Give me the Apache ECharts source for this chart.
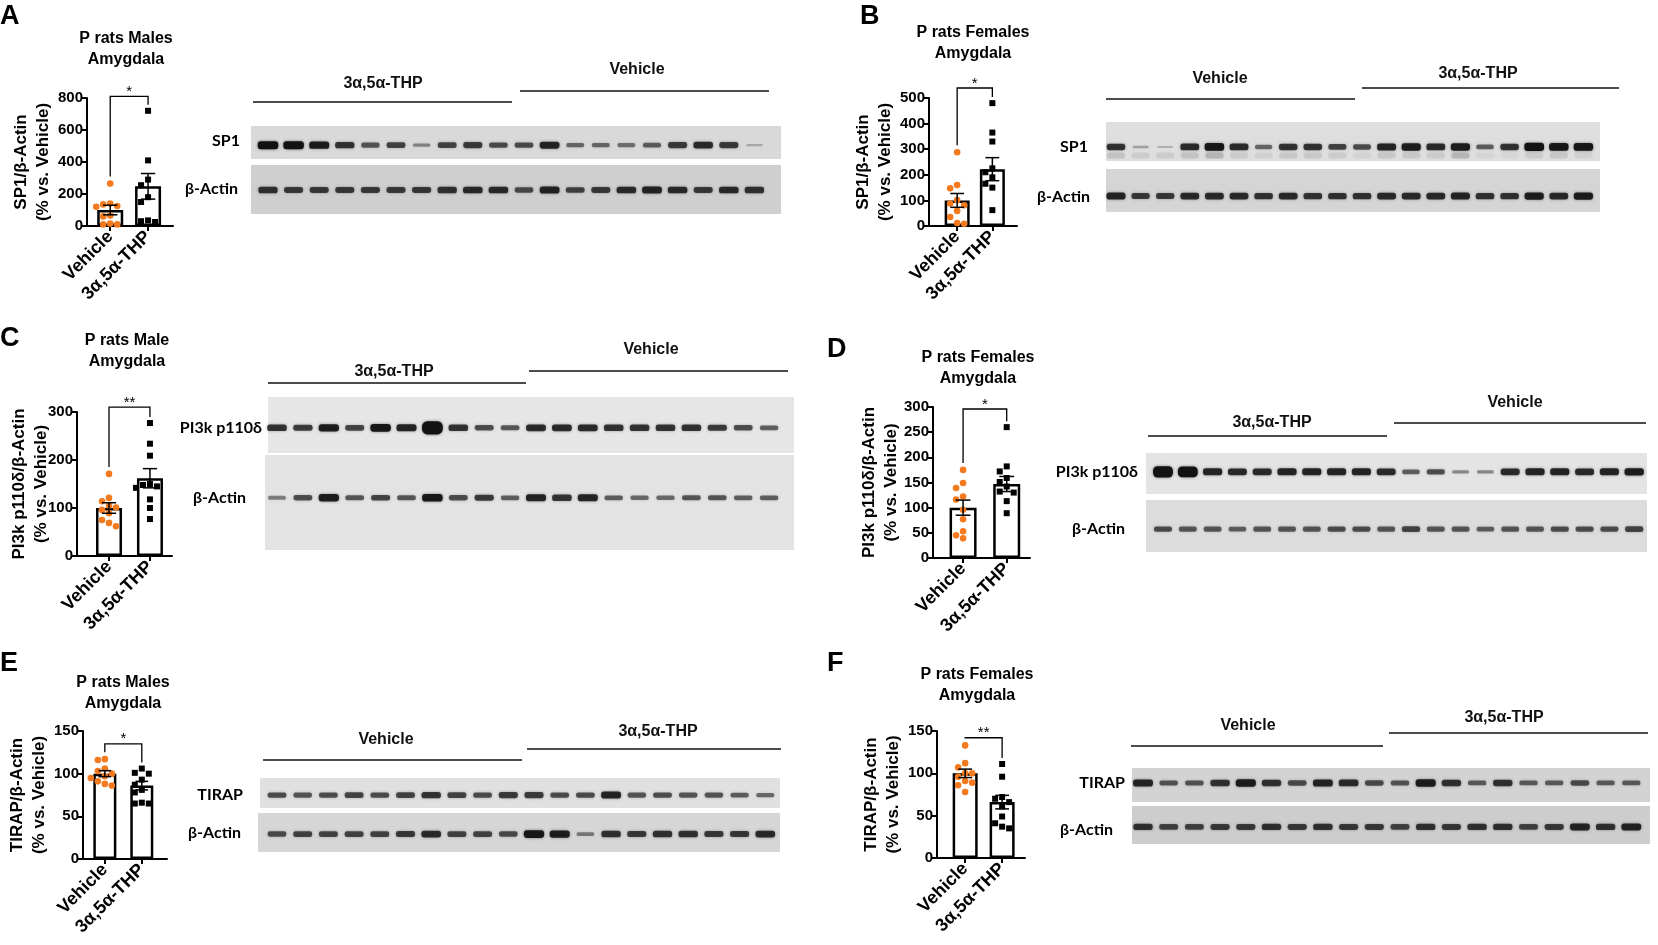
<!DOCTYPE html>
<html>
<head>
<meta charset="utf-8">
<script src="https://cdn.jsdelivr.net/npm/echarts@6/dist/echarts.min.js"></script>
<style>
html, body { margin: 0; padding: 0; background: #fff; }
#main { width: 1658px; height: 945px; }
</style>
</head>
<body>
<div id="main"></div>
<script>
// group names
var groups = ['Vehicle', '3α,5α-THP'];

// A: SP1, males
var aVehicle = [265, 140, 135, 125, 120, 65, 60, 15, 10, 10];
var aTHP = [720, 410, 290, 255, 180, 150, 35, 30, 25];
var aMean = [100, 248];
var aSem = [30, 80];
var aTicks = [0, 200, 400, 600, 800];
var aSp1Blot = [1.0, 1.0, 0.9, 0.75, 0.55, 0.65, 0.3, 0.65, 0.7, 0.6, 0.6, 0.85, 0.45, 0.45, 0.4, 0.5, 0.7, 0.8, 0.7, 0.1];
var aActinBlot = [0.75, 0.7, 0.7, 0.7, 0.7, 0.7, 0.72, 0.75, 0.8, 0.8, 0.6, 0.85, 0.65, 0.7, 0.8, 0.85, 0.8, 0.7, 0.8, 0.75];

// B: SP1, females
var bVehicle = [288, 160, 147, 101, 88, 81, 59, 35, 12, 9];
var bTHP = [480, 365, 330, 225, 210, 190, 165, 150, 62];
var bMean = [100, 222];
var bSem = [27, 45];
var bTicks = [0, 100, 200, 300, 400, 500];
var bSp1Blot = [0.75, 0.15, 0.08, 0.8, 0.95, 0.8, 0.45, 0.75, 0.75, 0.65, 0.6, 0.85, 0.9, 0.8, 0.9, 0.5, 0.75, 1.05, 0.95, 0.95];
var bSp1LowerBlot = [0.15, 0.1, 0.1, 0.15, 0.22, 0.1, 0.08, 0.12, 0.12, 0.1, 0.06, 0.12, 0.12, 0.1, 0.22, 0.06, 0.04, 0.1, 0.12, 0.08];
var bActinBlot = [0.85, 0.7, 0.7, 0.8, 0.8, 0.8, 0.75, 0.8, 0.75, 0.75, 0.75, 0.8, 0.8, 0.8, 0.85, 0.75, 0.75, 0.9, 0.8, 0.9];

// C: PI3k p110δ, males
var cVehicle = [171, 121, 114, 105, 101, 96, 89, 75, 69, 62];
var cTHP = [277, 234, 209, 150, 148, 145, 142, 118, 100, 77];
var cMean = [100, 162];
var cSem = [11, 20];
var cTicks = [0, 100, 200, 300];
var cPi3kBlot = [0.75, 0.7, 0.9, 0.65, 0.95, 0.85, 1.8, 0.75, 0.6, 0.55, 0.8, 0.8, 0.8, 0.75, 0.75, 0.75, 0.75, 0.7, 0.6, 0.5];
var cActinBlot = [0.35, 0.6, 0.9, 0.55, 0.65, 0.55, 0.95, 0.6, 0.7, 0.5, 0.85, 0.75, 0.85, 0.5, 0.45, 0.45, 0.55, 0.55, 0.5, 0.5];

// D: PI3k p110δ, females
var dVehicle = [175, 149, 139, 122, 116, 96, 77, 53, 45, 39];
var dTHP = [260, 182, 172, 159, 151, 142, 132, 130, 113, 89];
var dMean = [100, 147];
var dSem = [15, 15];
var dTicks = [0, 50, 100, 150, 200, 250, 300];
var dPi3kBlot = [1.5, 1.4, 0.85, 0.8, 0.8, 0.85, 0.85, 0.85, 0.85, 0.8, 0.5, 0.6, 0.3, 0.3, 0.8, 0.85, 0.85, 0.8, 0.85, 0.9];
var dActinBlot = [0.6, 0.55, 0.55, 0.5, 0.55, 0.55, 0.55, 0.6, 0.6, 0.55, 0.65, 0.55, 0.55, 0.5, 0.55, 0.55, 0.6, 0.6, 0.6, 0.65];

// E: TIRAP, males
var eVehicle = [117, 116, 106, 103, 100, 97, 95, 91, 88, 86];
var eTHP = [106, 101, 100, 93, 87, 81, 78, 66, 65, 65];
var eMean = [100, 86];
var eSem = [3.5, 5];
var eTicks = [0, 50, 100, 150];
var eTirapBlot = [0.6, 0.55, 0.6, 0.65, 0.6, 0.65, 0.75, 0.65, 0.6, 0.7, 0.7, 0.6, 0.6, 0.85, 0.55, 0.6, 0.55, 0.55, 0.5, 0.45];
var eActinBlot = [0.6, 0.65, 0.65, 0.65, 0.65, 0.7, 0.8, 0.65, 0.65, 0.6, 0.95, 0.9, 0.35, 0.75, 0.7, 0.75, 0.75, 0.7, 0.7, 0.8];

// F: TIRAP, females
var fVehicle = [133, 112, 107, 100, 100, 96, 91, 89, 86, 78];
var fTHP = [111, 96, 72, 70, 66, 61, 49, 41, 37, 35];
var fMean = [100, 66];
var fSem = [5, 8];
var fTicks = [0, 50, 100, 150];
var fTirapBlot = [0.85, 0.55, 0.55, 0.75, 0.9, 0.75, 0.6, 0.85, 0.8, 0.6, 0.55, 0.9, 0.75, 0.5, 0.75, 0.5, 0.5, 0.6, 0.5, 0.5];
var fActinBlot = [0.75, 0.65, 0.65, 0.7, 0.7, 0.75, 0.7, 0.75, 0.7, 0.7, 0.65, 0.75, 0.7, 0.75, 0.75, 0.65, 0.7, 0.85, 0.75, 0.85];

var FONT = '"Liberation Sans", Arial, sans-serif';
var BLOT_FONT = 'Lato, "Open Sans", sans-serif';
var ORANGE = '#f47a1f';

var panels = [
    { letter: 'A', lx: 0, ly: 3, title: 'P rats Males\nAmygdala', tx: 126, ty: 28,
      axisX: 87, xEnd: 173, top: 98, zeroY: 226, pos: [0.27, 0.71], barW: 26, nameGap: 31, fixName: false,
      yName: 'SP1/β-Actin\n(% vs. Vehicle)', vehicle: aVehicle, thp: aTHP, mean: aMean, sem: aSem,
      ticks: aTicks, sig: 810, star: '*' },
    { letter: 'B', lx: 860, ly: 3, title: 'P rats Females\nAmygdala', tx: 973, ty: 22,
      axisX: 929, xEnd: 1017, top: 98, zeroY: 226, pos: [0.32, 0.72], barW: 25, nameGap: 32, fixName: false,
      yName: 'SP1/β-Actin\n(% vs. Vehicle)', vehicle: bVehicle, thp: bTHP, mean: bMean, sem: bSem,
      ticks: bTicks, sig: 539, star: '*' },
    { letter: 'C', lx: 0, ly: 325, title: 'P rats Male\nAmygdala', tx: 127, ty: 330,
      axisX: 77, xEnd: 172, top: 412, zeroY: 556, pos: [0.337, 0.768], barW: 26, nameGap: 25, fixName: true,
      yName: 'PI3k p110δ/β-Actin\n(% vs. Vehicle)', vehicle: cVehicle, thp: cTHP, mean: cMean, sem: cSem,
      ticks: cTicks, sig: 310, star: '**' },
    { letter: 'D', lx: 827, ly: 336, title: 'P rats Females\nAmygdala', tx: 978, ty: 347,
      axisX: 933, xEnd: 1030, top: 407, zeroY: 558, pos: [0.31, 0.76], barW: 27, nameGap: 31, fixName: true,
      yName: 'PI3k p110δ/β-Actin\n(% vs. Vehicle)', vehicle: dVehicle, thp: dTHP, mean: dMean, sem: dSem,
      ticks: dTicks, sig: 296, star: '*' },
    { letter: 'E', lx: 0, ly: 650, title: 'P rats Males\nAmygdala', tx: 123, ty: 672,
      axisX: 83, xEnd: 167, top: 731, zeroY: 859, pos: [0.26, 0.70], barW: 23, nameGap: 27, fixName: false,
      yName: 'TIRAP/β-Actin\n(% vs. Vehicle)', vehicle: eVehicle, thp: eTHP, mean: eMean, sem: eSem,
      ticks: eTicks, sig: 135, star: '*' },
    { letter: 'F', lx: 827, ly: 650, title: 'P rats Females\nAmygdala', tx: 977, ty: 664,
      axisX: 937, xEnd: 1025, top: 731, zeroY: 858, pos: [0.32, 0.74], barW: 25, nameGap: 31, fixName: false,
      yName: 'TIRAP/β-Actin\n(% vs. Vehicle)', vehicle: fVehicle, thp: fTHP, mean: fMean, sem: fSem,
      ticks: fTicks, sig: 142, star: '**' }
];

var blots = [
    { headers: [[1, 383, 84, 253, 512, 102], [0, 637, 70, 520, 769, 91]], lane0: 268, step: 25.6,
      strips: [
        { label: 'SP1', lx: 240, ly: 141, left: 251, right: 781, top: 126, bottom: 159, bg: '#d9d9d9', band: 0.42, data: aSp1Blot },
        { label: 'β-Actin', lx: 238, ly: 189, left: 251, right: 781, top: 165, bottom: 214, bg: '#cfcfcf', band: 0.49, data: aActinBlot }
      ] },
    { headers: [[0, 1220, 79, 1106, 1355, 99], [1, 1478, 74, 1362, 1619, 88]], lane0: 1116, step: 24.6,
      strips: [
        { label: 'SP1', lx: 1088, ly: 147, left: 1106, right: 1600, top: 122, bottom: 161, bg: '#dedede', band: 0.36, data: bSp1Blot,
          lower: 0.14, lowerData: bSp1LowerBlot },
        { label: 'β-Actin', lx: 1090, ly: 197, left: 1106, right: 1600, top: 169, bottom: 212, bg: '#d5d5d5', band: 0.37, data: bActinBlot }
      ] },
    { headers: [[1, 394, 372, 268, 526, 383], [0, 651, 350, 529, 788, 371]], lane0: 277, step: 25.9,
      strips: [
        { label: 'PI3k p110δ', lx: 262, ly: 428, left: 268, right: 794, top: 397, bottom: 453, bg: '#e6e6e6', band: 0.45, data: cPi3kBlot },
        { label: 'β-Actin', lx: 246, ly: 498, left: 265, right: 794, top: 455, bottom: 550, bg: '#e3e3e3', band: 0.55, data: cActinBlot }
      ] },
    { headers: [[1, 1272, 423, 1148, 1387, 436], [0, 1515, 403, 1394, 1646, 423]], lane0: 1163, step: 24.8,
      strips: [
        { label: 'PI3k p110δ', lx: 1138, ly: 472, left: 1146, right: 1647, top: 453, bottom: 494, bg: '#e4e4e4', band: 0.54, data: dPi3kBlot },
        { label: 'β-Actin', lx: 1125, ly: 529, left: 1146, right: 1647, top: 500, bottom: 552, bg: '#dcdcdc', band: 0.44, data: dActinBlot }
      ] },
    { headers: [[0, 386, 740, 263, 522, 760], [1, 658, 732, 527, 781, 749]], lane0: 277, step: 25.7,
      strips: [
        { label: 'TIRAP', lx: 243, ly: 795, left: 260, right: 780, top: 778, bottom: 808, bg: '#e0e0e0', band: 0.43, data: eTirapBlot },
        { label: 'β-Actin', lx: 241, ly: 833, left: 258, right: 780, top: 813, bottom: 852, bg: '#d6d6d6', band: 0.46, data: eActinBlot }
      ] },
    { headers: [[0, 1248, 726, 1131, 1383, 746], [1, 1504, 718, 1389, 1648, 733]], lane0: 1143, step: 25.7,
      strips: [
        { label: 'TIRAP', lx: 1125, ly: 783, left: 1132, right: 1650, top: 768, bottom: 802, bg: '#d3d3d3', band: 0.56, data: fTirapBlot },
        { label: 'β-Actin', lx: 1113, ly: 830, left: 1132, right: 1650, top: 806, bottom: 844, bg: '#cdcdcd', band: 0.45, data: fActinBlot }
      ] }
];

var option = {
    animation: false,
    backgroundColor: '#fff',
    grid: [], xAxis: [], yAxis: [], series: [], graphic: []
};

// place points of one group side by side so they do not overlap
function swarm(pys, gap) {
    var placed = [], offs = [];
    for (var i = 0; i < pys.length; i++) {
        var cands = [0, -1, 1, -2, 2, -3, 3];
        for (var k = 0; k < cands.length; k++) {
            var ox = cands[k] * gap, ok = true;
            for (var j = 0; j < placed.length; j++) {
                var dx = placed[j][0] - ox, dy = placed[j][1] - pys[i];
                if (dx * dx + dy * dy < gap * gap) { ok = false; break; }
            }
            if (ok) break;
        }
        placed.push([ox, pys[i]]);
        offs.push(ox);
    }
    return offs;
}

function addBarPanel(p) {
    var gi = option.grid.length;
    var tickMax = p.ticks[p.ticks.length - 1];
    var tickStep = p.ticks[1] - p.ticks[0];
    var black = { color: '#000', width: 2 };
    option.grid.push({ left: p.axisX, top: p.top, width: p.xEnd - p.axisX, height: p.zeroY - p.top });
    option.xAxis.push({
        gridIndex: gi, type: 'value', min: 0, max: 1,
        axisLine: { show: true, onZero: false, lineStyle: black },
        axisTick: { show: true, customValues: p.pos, length: 5, lineStyle: black },
        axisLabel: {
            customValues: p.pos, rotate: 45, margin: 8,
            fontSize: 18, fontWeight: 'bold', color: '#000', fontFamily: FONT,
            formatter: function (v) { return Math.abs(v - p.pos[0]) < 0.01 ? groups[0] : groups[1]; }
        },
        splitLine: { show: false }
    });
    var yAxis = {
        gridIndex: gi, type: 'value', min: 0, max: tickMax, interval: tickStep,
        axisLine: { show: true, lineStyle: black },
        axisTick: { show: true, length: 5, lineStyle: black },
        axisLabel: { fontSize: 15, fontWeight: 'bold', color: '#000', fontFamily: FONT, margin: 4 },
        splitLine: { show: false },
        name: p.yName, nameLocation: 'middle', nameRotate: 90, nameGap: p.nameGap,
        nameTextStyle: { fontSize: 17, fontWeight: 'bold', color: '#000', fontFamily: FONT, lineHeight: 22 }
    };
    if (p.fixName) yAxis.nameMoveOverlap = false;
    option.yAxis.push(yAxis);
    option.series.push({
        type: 'bar', xAxisIndex: gi, yAxisIndex: gi, barWidth: p.barW, z: 2,
        data: [[p.pos[0], p.mean[0]], [p.pos[1], p.mean[1]]],
        itemStyle: { color: '#fff', borderColor: '#000', borderWidth: 2.5 }
    });
    var sets = [p.vehicle, p.thp];
    var dots = [];
    sets.forEach(function (arr, g) {
        arr.forEach(function (v, k) { dots.push([p.pos[g], v, g, k]); });
    });
    option.series.push({
        type: 'custom', xAxisIndex: gi, yAxisIndex: gi, z: 3, clip: false, data: dots,
        renderItem: function (params, api) {
            var g = api.value(2), k = api.value(3);
            var pys = sets[g].map(function (v) { return api.coord([p.pos[g], v])[1]; });
            var offs = swarm(pys, 7);
            var c = api.coord([p.pos[g], sets[g][k]]);
            var x = c[0] + offs[k];
            if (g === 0) {
                return { type: 'circle', shape: { cx: x, cy: c[1], r: 3.3 }, style: { fill: ORANGE } };
            }
            return { type: 'rect', shape: { x: x - 3, y: c[1] - 3, width: 6, height: 6 }, style: { fill: '#000' } };
        }
    });
    option.series.push({
        type: 'custom', xAxisIndex: gi, yAxisIndex: gi, z: 4, clip: false,
        data: [[p.pos[0], p.mean[0], p.sem[0]], [p.pos[1], p.mean[1], p.sem[1]]],
        renderItem: function (params, api) {
            var x = api.value(0), m = api.value(1), s = api.value(2);
            var hi = api.coord([x, m + s]), lo = api.coord([x, m - s]);
            var cap = p.barW * 0.55, st = { stroke: '#000', lineWidth: 1.5 };
            return { type: 'group', children: [
                { type: 'line', shape: { x1: hi[0], y1: hi[1], x2: lo[0], y2: lo[1] }, style: st },
                { type: 'line', shape: { x1: hi[0] - cap / 2, y1: hi[1], x2: hi[0] + cap / 2, y2: hi[1] }, style: st },
                { type: 'line', shape: { x1: lo[0] - cap / 2, y1: lo[1], x2: lo[0] + cap / 2, y2: lo[1] }, style: st }
            ] };
        }
    });
    option.series.push({
        type: 'custom', xAxisIndex: gi, yAxisIndex: gi, z: 4, clip: false,
        data: [[p.pos[0], p.pos[1], p.sig]],
        renderItem: function (params, api) {
            var a = api.coord([api.value(0), api.value(2)]);
            var b = api.coord([api.value(1), api.value(2)]);
            var la = api.coord([p.pos[0], Math.max.apply(null, p.vehicle)])[1] - 7;
            var lb = api.coord([p.pos[1], Math.max.apply(null, p.thp)])[1] - 6;
            return { type: 'group', children: [
                { type: 'polyline', shape: { points: [[a[0], la], [a[0], a[1]], [b[0], b[1]], [b[0], lb]] },
                  style: { stroke: '#000', lineWidth: 1.3, fill: null } },
                { type: 'text', style: { text: p.star, x: (a[0] + b[0]) / 2, y: a[1] + 3, textAlign: 'center',
                  textVerticalAlign: 'bottom', fontSize: 15, fontFamily: FONT, fill: '#000' } }
            ] };
        }
    });
    option.graphic.push({ type: 'text', x: p.lx, y: p.ly,
        style: { text: p.letter, fontSize: 27, fontWeight: 'bold', fontFamily: FONT, fill: '#000' } });
    option.graphic.push({ type: 'text', x: p.tx, y: p.ty,
        style: { text: p.title, textAlign: 'center', fontSize: 16, fontWeight: 'bold', lineHeight: 21,
                 fontFamily: FONT, fill: '#000' } });
}

function bandShape(c, v, step) {
    var w = step * (0.62 + 0.18 * Math.min(v, 1));
    var h = 1.5 + 6.5 * v;
    var a = Math.min(1, 0.15 + 0.85 * v);
    return { type: 'rect', shape: { x: c[0] - w / 2, y: c[1] - h / 2, width: w, height: h, r: h / 2.5 },
        style: { fill: 'rgba(18,18,18,' + a + ')', shadowBlur: 3, shadowColor: 'rgba(30,30,30,' + a * 0.6 + ')' } };
}

// faint smudge under the main band
function smudgeShape(c, v, step) {
    var w = step * 0.75;
    return { type: 'rect', shape: { x: c[0] - w / 2, y: c[1] - 3, width: w, height: 6, r: 3 },
        style: { fill: 'rgba(60,60,60,' + v + ')', shadowBlur: 5, shadowColor: 'rgba(60,60,60,' + v + ')' } };
}

function addBlot(b) {
    b.headers.forEach(function (h) {
        option.graphic.push({ type: 'text', x: h[1], y: h[2],
            style: { text: groups[h[0]], textAlign: 'center', textVerticalAlign: 'middle', fontSize: 16,
                     fontWeight: 'bold', fontFamily: FONT, fill: '#111' } });
        option.graphic.push({ type: 'line', shape: { x1: h[3], y1: h[5], x2: h[4], y2: h[5] },
            style: { stroke: '#111', lineWidth: 1.6 } });
    });
    b.strips.forEach(function (s) {
        var gi = option.grid.length;
        option.grid.push({ left: s.left, top: s.top, width: s.right - s.left, height: s.bottom - s.top,
            show: true, backgroundColor: s.bg, borderWidth: 0 });
        option.xAxis.push({ gridIndex: gi, type: 'value', show: false,
            min: -(b.lane0 - s.left) / b.step, max: (s.right - b.lane0) / b.step });
        option.yAxis.push({ gridIndex: gi, type: 'value', show: false, min: 0, max: 1 });
        option.series.push({
            type: 'custom', xAxisIndex: gi, yAxisIndex: gi, z: 2,
            data: s.data.map(function (v, i) { return [i, v]; }),
            renderItem: function (params, api) {
                return bandShape(api.coord([api.value(0), s.band]), api.value(1), b.step);
            }
        });
        if (s.lowerData) {
            option.series.push({
                type: 'custom', xAxisIndex: gi, yAxisIndex: gi, z: 1,
                data: s.lowerData.map(function (v, i) { return [i, v]; }),
                renderItem: function (params, api) {
                    return smudgeShape(api.coord([api.value(0), s.lower]), api.value(1), b.step);
                }
            });
        }
        option.graphic.push({ type: 'text', x: s.lx, y: s.ly,
            style: { text: s.label, textAlign: 'right', textVerticalAlign: 'middle', fontSize: 16,
                     fontWeight: 'bold', fontFamily: BLOT_FONT, fill: '#000' } });
    });
}

panels.forEach(addBarPanel);
blots.forEach(addBlot);

var chart = echarts.init(document.getElementById('main'));
chart.setOption(option);
</script>
</body>
</html>
